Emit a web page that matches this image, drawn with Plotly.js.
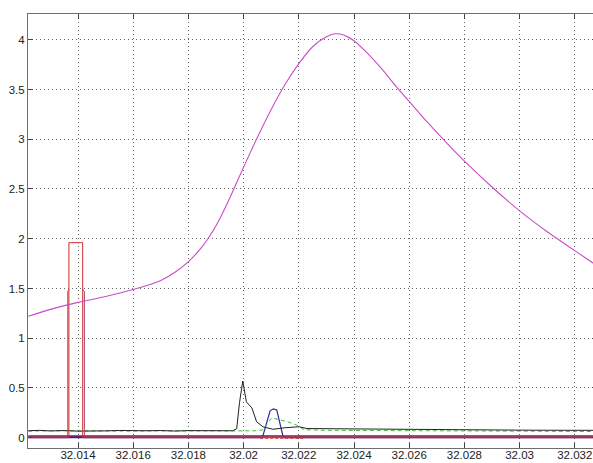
<!DOCTYPE html>
<html>
<head>
<meta charset="utf-8">
<script src="https://cdn.plot.ly/plotly-3.0.1.min.js"></script>
<style>
html,body{margin:0;padding:0;overflow:hidden;background:#fff;}
#chart{width:597px;height:463px;}
</style>
</head>
<body>
<div id="chart"></div>
<script>
// ---- data ----
const magentaX = [32.0122,32.013,32.014,32.015,32.016,32.0165,32.017,32.0175,32.018,32.0185,32.019,32.0195,32.02,32.0205,32.021,32.0215,32.022,32.0225,32.023,32.0233,32.0236,32.024,32.0245,32.025,32.0255,32.026,32.0265,32.027,32.0275,32.028,32.029,32.030,32.031,32.032,32.0328];
const magentaY = [1.22,1.29,1.36,1.42,1.49,1.53,1.58,1.66,1.77,1.92,2.13,2.41,2.72,3.02,3.30,3.55,3.76,3.93,4.03,4.06,4.05,3.99,3.86,3.71,3.54,3.38,3.22,3.07,2.92,2.78,2.52,2.28,2.07,1.88,1.73];

const pulseAX = [32.0122,32.01367,32.01367,32.01417,32.01417,32.0328];
const pulseAY = [0,0,1.96,1.96,0,0];
const pulseBX = [32.0122,32.01363,32.01363,32.01367,null,32.01417,32.01423,32.01423,32.0328];
const pulseBY = [0.01,0.01,1.47,1.49,null,1.49,1.47,0.01,0.01];

const blackX = [32.0122,32.0126,32.013,32.0135,32.014,32.0145,32.015,32.0155,32.016,32.0165,32.017,32.0175,32.018,32.0185,32.019,32.0196,32.01975,32.01985,32.01997,32.0201,32.0203,32.02047,32.0207,32.02106,32.0215,32.022,32.0223,32.023,32.024,32.025,32.026,32.027,32.028,32.029,32.030,32.031,32.032,32.0328];
const blackY = [0.070,0.074,0.068,0.072,0.066,0.071,0.069,0.073,0.068,0.070,0.072,0.067,0.071,0.069,0.072,0.070,0.090,0.350,0.570,0.360,0.300,0.160,0.110,0.085,0.100,0.110,0.092,0.090,0.088,0.085,0.082,0.080,0.080,0.078,0.076,0.075,0.074,0.074];

const greenX = [32.0122,32.013,32.014,32.015,32.016,32.017,32.018,32.019,32.0197,32.0205,32.0207,32.02102,32.0213,32.0216,32.0219,32.0222,32.023,32.024,32.026,32.028,32.030,32.0328];
const greenY = [0.065,0.070,0.068,0.064,0.066,0.069,0.067,0.066,0.068,0.070,0.080,0.200,0.180,0.160,0.130,0.080,0.074,0.072,0.070,0.068,0.066,0.062];

const blueX = [32.0122,32.02068,32.02096,32.02108,32.0212,32.02144,32.0328];
const blueY = [0,0,0.27,0.29,0.28,0,0];

const purpleX = [32.0122,32.0328];
const purpleY = [0.015,0.015];

const redLowX = [32.0206,32.0222];
const redLowY = [-0.006,-0.006];

const xTicks = [32.014,32.016,32.018,32.020,32.022,32.024,32.026,32.028,32.030,32.032];
const xTickText = ['32.014','32.016','32.018','32.02','32.022','32.024','32.026','32.028','32.03','32.032'];
const yTicks = [0,0.5,1,1.5,2,2.5,3,3.5,4];
const yTickText = ['0','0.5','1','1.5','2','2.5','3','3.5','4'];

const traces = [
  {x: purpleX, y: purpleY, mode:'lines', line:{color:'#6a1f78', width:2}},
  {x: blueX, y: blueY, mode:'lines', line:{color:'#2a2a9a', width:1.2}},
  {x: redLowX, y: redLowY, mode:'lines', line:{color:'#e03a2a', width:1, dash:'3px,2px'}},
  {x: greenX, y: greenY, mode:'lines', line:{color:'#44bb44', width:1, dash:'4px,3px'}},
  {x: blackX, y: blackY, mode:'lines', line:{color:'#222222', width:1}},
  {x: pulseBX, y: pulseBY, mode:'lines', line:{color:'#a8405a', width:1}, connectgaps:false},
  {x: pulseAX, y: pulseAY, mode:'lines', line:{color:'#d42a2a', width:1}},
  {x: magentaX, y: magentaY, mode:'lines', line:{color:'#c94cc9', width:1.1, shape:'spline', smoothing:0.7}}
];

const axisCommon = {
  showline:true, linecolor:'#6e6e6e', linewidth:1, mirror:'ticks',
  ticks:'inside', ticklen:5, tickcolor:'#444', tickwidth:1,
  showgrid:true, gridcolor:'#666666', griddash:'1px,3px', gridwidth:1,
  zeroline:false, tickfont:{family:'Liberation Sans, Arial, sans-serif', size:11.5, color:'#222'}
};

const layout = {
  width:597, height:463,
  margin:{l:28, r:0, t:14, b:15},
  paper_bgcolor:'#fff', plot_bgcolor:'#fff',
  showlegend:false,
  xaxis: Object.assign({}, axisCommon, {range:[32.012188,32.032804], tickmode:'array', tickvals:xTicks, ticktext:xTickText, ticklabelstandoff:-4}),
  yaxis: Object.assign({}, axisCommon, {range:[-0.1035,4.259], tickmode:'array', tickvals:yTicks, ticktext:yTickText})
};

Plotly.newPlot('chart', traces, layout, {displayModeBar:false, staticPlot:true});
</script>
</body>
</html>
